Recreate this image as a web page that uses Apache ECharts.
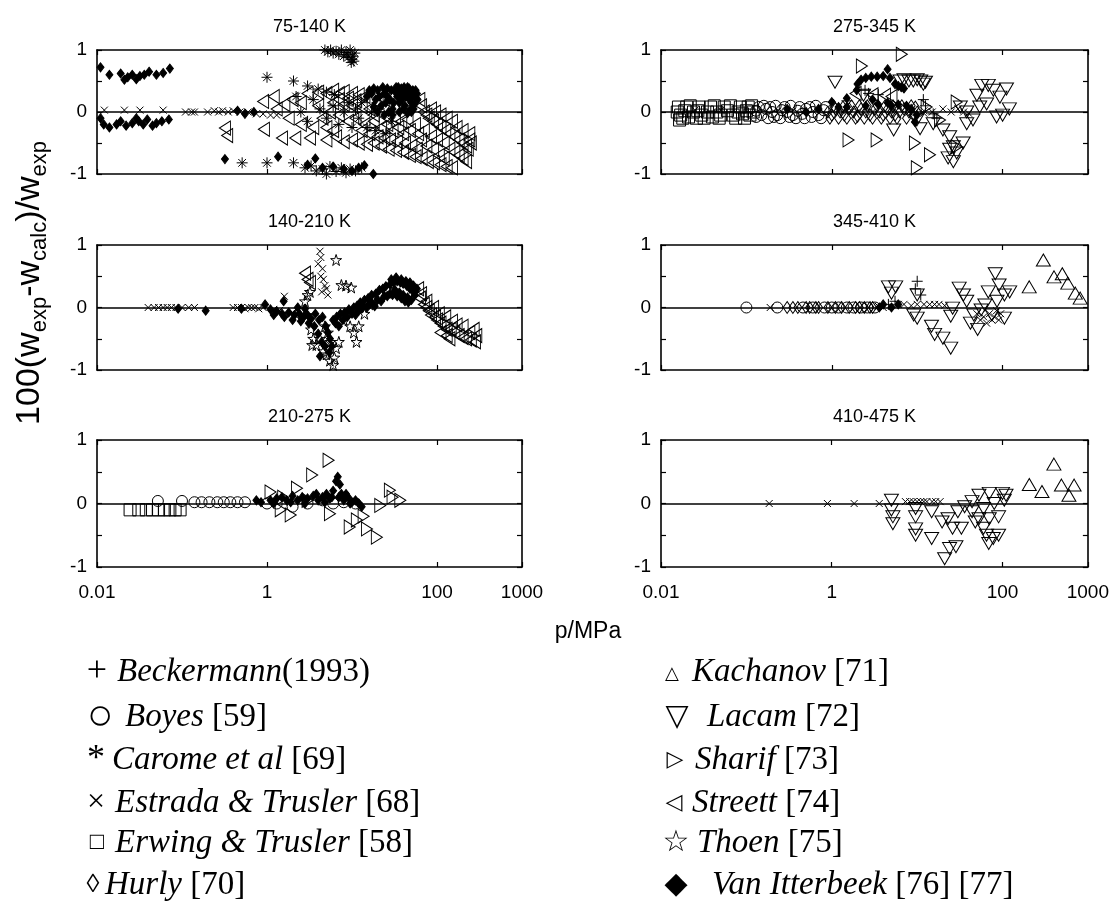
<!DOCTYPE html>
<html><head><meta charset="utf-8">
<script src="https://cdn.jsdelivr.net/npm/echarts@6.0.0/dist/echarts.min.js"></script>
<style>html,body{margin:0;padding:0;background:#fff}#c{width:1112px;height:909px}</style>
</head><body><div id="c"></div>
<script>
// ---------- tick labels ----------
const xTicks = [0.01, 1, 100, 1000];
const xTickLabels = ['0.01', '1', '100', '1000'];
const yTicks = [-1, -0.5, 0, 0.5, 1];
const yTickLabels = ['-1', '', '0', '', '1'];
const panelTitles = ['75-140 K', '140-210 K', '210-275 K', '275-345 K', '345-410 K', '410-475 K'];

// ---------- 75-140 K ----------
const carome_75 = [[4.8,1.0],[5.2,0.97],[5.6,1.0],[6.0,0.95],[6.5,0.98],[7.0,0.93],[7.5,1.0],[8.0,0.9],[8.5,0.96],[9.0,0.88],[9.5,1.0],[10.0,0.85],[10.5,0.82],[9.8,0.8],[8.8,0.93],[10.8,0.95],[10.2,0.9],
 [1.0,0.56],[2.05,0.5],[3.0,0.42],[4.0,0.37],[5.0,0.32],[6.2,0.28],
 [0.51,-0.82],[1.0,-0.82],[2.05,-0.82],[2.8,-0.9],[3.3,-0.87],[3.8,-0.95],[4.5,-0.92],[5.0,-1.0],[5.5,-0.88],[6.5,-0.96],[7.5,-0.9],[8.5,-0.98],[9.5,-0.92],[11,-0.95],[13,-0.9],
 [3.5,0.2],[4.2,0.05],[5,-0.1],[6,0.1],[7,-0.2],[8,0.0],[9,0.15],[10,-0.25],[11,0.05],[12,-0.1],[13,0.15],[15,-0.25],[17,0.0],[19,-0.3],[21,0.05],[25,-0.35],[29,-0.15],[2.5,0.0],[3,-0.15],[2.2,0.25]];
const vanItterbeek_75 = [[0.011,0.72],[0.014,0.6],[0.019,0.62],[0.021,0.52],[0.023,0.56],[0.026,0.6],[0.029,0.53],[0.032,0.58],[0.036,0.6],[0.041,0.65],[0.05,0.6],[0.06,0.63],[0.072,0.7],
 [0.011,-0.1],[0.012,-0.2],[0.014,-0.25],[0.017,-0.2],[0.019,-0.15],[0.022,-0.22],[0.026,-0.18],[0.029,-0.1],[0.031,-0.15],[0.035,-0.2],[0.039,-0.12],[0.045,-0.22],[0.05,-0.18],[0.058,-0.15],[0.07,-0.12],
 [0.32,-0.76],[1.35,-0.72],[3.7,-0.75],[14,-0.86],[17.8,-1.0],[3.0,-0.85],[4.5,-0.9],[6,-0.88],[8,-0.92],[10,-0.95],[12,-0.9],
 [0.45,0.02],[0.55,-0.03],[0.7,0.0],
 [15,0.25],[17,0.3],[19,0.2],[20,0.35],[22,0.1],[24,0.3],[26,0.38],[28,0.2],[30,0.05],[32,0.33],[34,0.25],[36,0.15],[38,0.38],[40,0.3],[42,0.1],[44,0.35],[46,0.22],[48,0.3],[50,0.15],[52,0.35],[55,0.25],[58,0.3],[18,0.08],[25,0.15],[35,0.4],[45,0.4],[27,0.0],[40,0.05],[53,0.05],
 [16,0.35],[18,0.38],[21,0.25],[23,0.4],[26,0.25],[29,0.35],[31,0.15],[33,0.4],[37,0.3],[39,0.2],[41,0.4],[43,0.25],[47,0.38],[49,0.05],[51,0.25],[54,0.12],[56,0.35],[59,0.2],[20,0.0],[24,-0.05],[30,-0.05],[36,0.0],[45,-0.02],[50,0.0]];
const estrada_75 = [[0.0122,0.03],[0.021,0.03],[0.032,0.03],[0.06,0.03],[0.11,0.0],[0.13,0.0],[0.14,0.0],[0.2,0.0],[0.24,0.02],[0.27,0.0],[0.3,0.02],[0.35,0.0],[0.4,0.02],[0.48,0.0],[0.6,0.0],[0.75,-0.03],[0.9,-0.03],[1.1,-0.05],[1.3,-0.05]];
const streett_75 = [[0.32,-0.26],[0.34,-0.38],[0.9,0.17],[1.2,0.25],[1.3,0.05],[0.92,-0.28],[1.5,-0.42],[2.15,-0.42],[3.2,-0.42],[1.6,0.12],[2.0,0.2],[2.5,0.15],[3.0,0.3],[1.8,-0.1],[2.5,-0.2],[3.5,-0.25],
 [4,0.32],[5,0.3],[6,0.35],[7,0.3],[8,0.33],[10,0.3],[12,0.28],[14,0.25],[6,0.15],[8,0.12],[10,0.1],[13,0.08],[16,0.05],
 [4.5,-0.1],[5.5,0.0],[7,-0.05],[9,-0.15],[11,-0.1],[14,-0.2],[18,-0.15],[22,-0.25],[26,-0.2],[30,-0.3],[35,-0.25],[40,-0.35],[48,-0.3],
 [5,-0.45],[6.5,-0.4],[8,-0.48],[10,-0.45],[12,-0.5],[15,-0.52],[18,-0.5],[22,-0.55],[27,-0.6],[33,-0.62],[40,-0.65],[48,-0.7],[56,-0.72],[66,-0.75],[78,-0.8],[92,-0.82],[110,-0.85],[130,-0.88],[150,-0.9],
 [62,0.2],[65,0.1],[70,0.0],[75,-0.05],[80,-0.1],[90,-0.15],[100,-0.2],[110,-0.25],[125,-0.3],[140,-0.35],[160,-0.4],[180,-0.45],[200,-0.5],[220,-0.55],[240,-0.45],[230,-0.6],[200,-0.3],[170,-0.25],[150,-0.15],[130,-0.1],[110,-0.05],[95,0.0],[85,0.05],[70,-0.3],[85,-0.4],[100,-0.45],[120,-0.5],[140,-0.6],[160,-0.65],[180,-0.7],[200,-0.75],[220,-0.8],[250,-0.5],[240,-0.35],
 [4,0.1],[5,-0.25],[6,-0.3],[7,0.2],[9,0.22],[11,0.18],[13,-0.3],[16,-0.35],[20,-0.4],[24,-0.42],[28,-0.45],[34,-0.48],[42,-0.5],[50,-0.55],[58,-0.6],[20,0.15],[24,0.2],[18,-0.05],[25,-0.08],[32,-0.1],[38,-0.15],[45,-0.12],[55,-0.2],[60,-0.35],[65,-0.45],[75,-0.55],[90,-0.6],[105,-0.7],[120,-0.75]];

// ---------- 140-210 K ----------
const estrada_140 = [[0.04,0],[0.047,0],[0.053,0],[0.06,0],[0.067,0],[0.075,0],[0.085,0],[0.1,0],[0.12,0],[0.14,0],[0.4,0],[0.45,0],[0.5,0],[0.55,-0.02],[0.6,0],[0.66,0],[0.72,0],[0.8,-0.02],[0.9,0.0],[1.6,0.18],
 [4.2,0.9],[4.3,0.8],[4.0,0.7],[4.5,0.62],[4.3,0.5],[4.6,0.45],[4.8,0.35],[5.0,0.3],[4.4,0.25],[5.2,0.2],[1.2,-0.03],[1.4,-0.05],[2.0,-0.08]];
const vanItterbeek_140 = [[0.09,-0.02],[0.19,-0.05],[0.5,-0.02],[0.95,0.05],[1.57,0.1],[1.1,-0.03],[1.3,-0.06],[1.5,-0.1],[1.8,-0.08],[2.1,-0.12],[2.4,-0.1],[2.7,-0.15],[3.0,-0.12],[3.3,-0.18],[3.7,-0.1],[4.1,-0.2],[4.5,-0.15],[4.9,-0.3],[5.2,-0.4],[5.5,-0.5],[5.8,-0.62],[5.4,-0.72],[6.0,-0.2],[6.6,-0.15],[7.3,-0.1],[8.2,-0.08],[9.2,-0.03],[10.5,0.0],[11.5,0.03],[12.5,0.08],[14,0.12],[15.5,0.15],[17,0.2],[19,0.22],[21,0.28],[23,0.3],[25,0.34],[28,0.37],[31,0.4],[34,0.42],[37,0.4],[40,0.38],[44,0.35],[48,0.3],[52,0.26],[55,0.2],[20,0.12],[24,0.18],[28,0.22],[32,0.28],[36,0.24],[40,0.2],[45,0.16],[50,0.12],[16,0.05],[13,-0.02],[3.6,-0.3],[4.0,-0.42],[4.4,-0.55],[4.8,-0.62],[4.2,-0.78],
 [1.2,-0.12],[1.6,-0.15],[2.0,-0.2],[2.5,-0.22],[3.1,-0.25],[2.3,0.0],[2.8,-0.02],[6.4,-0.25],[7,-0.3],[7.8,-0.2],[8.8,-0.15],[10,-0.1],[11,-0.12],[12,-0.05],[13.5,0.02],[15,0.0],[17,0.08],[18.5,0.02],[22,0.1],[26,0.18],[30,0.2],[34,0.18],[38,0.15],[42,0.1],[46,0.08],[29,0.45],[33,0.48],[38,0.45],[43,0.42],[48,0.4],[53,0.35],[58,0.3]];
const thoen_140 = [[6.5,0.76],[7.5,0.36],[8.5,0.35],[9.8,0.32],[3.3,-0.35],[3.5,-0.5],[3.8,-0.6],[4.2,-0.5],[4.6,-0.7],[5.0,-0.75],[5.5,-0.85],[6.0,-0.92],[6.5,-0.65],[7.0,-0.55],[5.2,-0.4],[4.8,-0.3],[9.5,-0.3],[10.5,-0.4],[11.3,-0.55],[12,-0.3],[3.0,0.2],[2.8,0.1],[3.2,0.25],[8,-0.2],[14,-0.1],[16,0.05],[6.2,-0.8],[5.6,-0.55],[3.4,-0.6],[2.9,-0.12],[2.2,-0.1],[18,0.1],[22,0.2],[26,0.3]];
const streett_140 = [[2.8,0.55],[3.0,0.45],[3.2,0.4],[60,0.3],[63,0.15],[65,0.22],[70,0.05],[75,0.0],[75,0.1],[80,-0.05],[85,-0.12],[90,0.0],[95,-0.15],[100,-0.2],[105,-0.1],[110,-0.25],[110,-0.4],[120,-0.3],[125,-0.15],[130,-0.35],[130,-0.45],[140,-0.5],[145,-0.35],[150,-0.22],[160,-0.4],[170,-0.28],[180,-0.45],[200,-0.48],[200,-0.3],[220,-0.5],[240,-0.4],[250,-0.52],[270,-0.35],[280,-0.55],[290,-0.45]];

// ---------- 210-275 K ----------
const erwing_210 = [[0.0245,-0.1],[0.031,-0.1],[0.038,-0.1],[0.045,-0.1],[0.053,-0.1],[0.062,-0.1],[0.072,-0.1],[0.083,-0.1],[0.095,-0.1]];
const boyes_210 = [[0.052,0.04],[0.1,0.04],[0.14,0.02],[0.17,0.02],[0.21,0.02],[0.26,0.02],[0.31,0.02],[0.37,0.02],[0.45,0.02],[0.55,0.02],[1.0,0.0],[1.3,0.0],[2.0,-0.05],[3.0,0.0],[4.5,0.05],[6.0,0.0],[8,0.02],[11,0.0]];
const vanItterbeek_210 = [[0.75,0.05],[0.85,0.02],[1.1,0.05],[1.3,0.08],[1.5,0.1],[1.7,0.05],[2.0,0.12],[2.3,0.05],[2.6,0.1],[3.0,0.08],[3.5,0.12],[4.0,0.05],[4.5,0.1],[5.0,0.15],[5.5,0.08],[6.0,0.2],[6.5,0.35],[6.8,0.42],[7.2,0.3],[7.5,0.15],[8,0.05],[9,0.1],[10,0.02],[11,0.05],[12,0.0],[13,-0.05],
 [1.2,0.0],[1.9,0.02],[2.8,0.0],[3.8,0.15],[4.8,0.02],[5.8,0.1],[7,0.1],[8.5,0.15],[9.5,0.0]];
const sharif_210 = [[5.3,0.68],[3.4,0.45],[1.1,0.18],[2.25,0.24],[1.45,-0.1],[1.9,-0.18],[5.5,-0.16],[9.4,-0.37],[11.4,-0.26],[15,-0.4],[19.6,-0.53],[27.9,0.21],[30,0.1],[21.5,-0.03],[1.55,0.1],[3.0,0.05],[13.7,-0.2],[37,0.05]];

// ---------- 275-345 K ----------
const erwing_275 = [[0.0155,0.0],[0.0165,-0.13],[0.017,-0.05],[0.019,0.02],[0.021,-0.08],[0.024,0.0],[0.027,0.02],[0.03,-0.05],[0.035,0.0],[0.04,-0.08],[0.045,0.0],[0.05,-0.05],[0.06,0.02],[0.07,-0.05],[0.08,0.0],[0.09,-0.03],[0.1,0.02],[0.11,-0.05],[0.12,0.0],
 [0.016,0.08],[0.018,-0.1],[0.02,0.08],[0.022,0.1],[0.026,-0.1],[0.028,0.08],[0.032,-0.1],[0.038,0.08],[0.042,0.1],[0.048,-0.1],[0.055,0.08],[0.065,0.1],[0.075,-0.1],[0.085,0.08],[0.095,-0.1],[0.105,0.08],[0.115,0.1]];
const boyes_275 = [[0.13,0.02],[0.15,-0.05],[0.17,0.05],[0.2,0.0],[0.23,-0.05],[0.26,0.03],[0.3,0.0],[0.35,-0.05],[0.4,0.02],[0.45,-0.03],[0.5,0.05],[0.6,0.0],[0.7,-0.05],[0.8,0.03],
 [0.13,-0.08],[0.14,0.08],[0.16,0.1],[0.18,-0.1],[0.19,0.08],[0.21,-0.08],[0.22,0.1],[0.25,-0.1],[0.28,0.08],[0.32,-0.08],[0.33,0.1],[0.38,-0.1],[0.42,0.08],[0.48,-0.1],[0.55,0.08],[0.58,-0.08],[0.65,0.1],[0.75,-0.1],[0.85,0.08]];
const hurly_275 = [[0.9,0.0],[1.0,-0.05],[1.1,0.05],[1.25,0.0],[1.4,-0.05],[1.6,0.05],[1.8,0.0],[2.0,-0.07],[2.2,0.05],[2.5,0.0],[2.8,-0.05],[3.2,0.05],[3.6,0.0],[4.0,-0.05],[4.5,0.05],[5.0,0.0],[5.5,-0.05],[6.2,0.0],[7.0,0.05],[8.0,0.0],[9.0,-0.05],[10,0.0],
 [0.95,-0.1],[1.05,0.1],[1.2,-0.1],[1.35,0.08],[1.5,-0.1],[1.7,0.1],[1.9,-0.1],[2.1,0.1],[2.4,-0.1],[2.6,0.1],[3.0,-0.1],[3.4,0.1],[3.8,-0.1],[4.2,0.1],[4.8,-0.1],[5.2,0.1],[5.8,-0.1],[6.6,0.1],[7.5,-0.1],[8.5,0.1],[9.5,0.08]];
const estrada_275 = [[0.025,0.03],[0.05,0.03],[1.2,0.0],[1.5,0.02],[2.0,0.0],[3.0,0.0],[5.0,0.02],[8.0,0.0],[12,0.02],[15,0.0],[20,0.05],[25,0.0],[30,0.05],[35,0.0],[40,-0.02],[12,-0.02]];
const vanItterbeek_275 = [[1.0,0.16],[1.5,0.22],[1.96,0.35],[2.2,0.52],[2.5,0.55],[2.9,0.57],[3.4,0.57],[4.0,0.58],[4.5,0.69],[4.8,0.55],[5.5,0.45],[6.0,0.42],[6.5,0.4],[7.0,0.38],[2.0,0.45],[9.9,-0.05],[9.4,-0.16],[1.2,0.08],[3.0,0.2],[5.0,0.1],
 [0.3,0.05],[0.5,0.0],[0.7,0.05],[1.5,0.08],[2.5,0.1],[3.5,0.12],[4.5,0.15],[6,0.12],[7.5,0.1],[8.5,0.05]];
const lacam_275 = [[1.09,0.48],[2.35,0.27],[5.3,-0.29],[6.3,0.5],[7,0.52],[8,0.5],[9,0.5],[10,0.52],[11,0.5],[11.8,0.45],[12.5,0.48],[9.9,-0.13],[10.8,-0.27],[15.4,-0.19],[20,-0.29],[24,-0.4],[26.5,-0.56],[29,-0.66],[26.5,-0.8],[34.5,-0.5],[38,-0.19],[45,-0.13],[54,0.08],[57,0.43],[68,0.43],[78,0.35],[93,0.24],[111,0.37],[85,-0.08],[100,-0.05],[120,0.05],[65,0.13],[38,0.0],[32,0.08],[24,-0.6],[23,-0.74],[50,0.27]];
const sharif_275 = [[6.6,0.93],[2.25,0.74],[1.57,-0.45],[3.35,-0.45],[9.4,-0.5],[14.1,-0.69],[9.9,-0.9],[18.5,-0.13],[29,0.16],[12.9,0.08],[29,-0.56]];
const beckermann_275 = [[1.5,0.18],[2.45,0.35],[2.7,0.3],[3.5,0.28],[11.8,0.2],[12.5,0.1],[15.4,-0.03],[17,-0.1]];
const streett_275 = [[1.9,0.3],[3.0,0.28],[4.2,0.27],[5.0,0.25]];

// ---------- 345-410 K ----------
const boyes_345 = [[0.1,0],[0.23,0],[0.46,0],[0.6,0],[0.82,0],[1.0,0],[1.2,0],[1.5,0],[1.8,0],[2.2,0],[2.6,0],[3.2,0]];
const hurly_345 = [[0.3,0],[0.35,0],[0.4,0],[0.5,0],[0.55,0],[0.65,0],[0.7,0],[0.9,0],[1.1,0],[1.3,0],[1.6,0],[1.9,0],[2.1,0],[2.4,0],[2.8,0],[3.0,0]];
const estrada_345 = [[0.19,0],[3.5,0.02],[4,0.0],[6,0.05],[7,0.05],[8.5,0.03],[10,0.05],[12,0.05],[14,0.05],[16,0.05],[18,0.05],[21,0.03],[50,-0.1],[55,-0.2],[60,-0.15],[65,-0.25],[70,-0.1],[75,-0.2],[80,-0.15],[85,-0.05],[90,-0.2],[95,-0.1]];
const lacam_345 = [[4.6,0.33],[5.6,0.33],[5.0,0.23],[10,-0.17],[14.7,-0.3],[16,-0.43],[20,-0.49],[24.7,-0.65],[24.7,-0.14],[31,0.31],[34.8,0.2],[38,0.1],[42,-0.25],[51,-0.35],[68,0.25],[82,0.54],[91,0.36],[105,0.2],[121,0.25],[105,-0.17],[75,-0.12],[62,0.04],[56,-0.04],[9.1,-0.12],[10,0.2],[26,-0.01],[46,-0.12],[86,0.1]];
const beckermann_345 = [[10,0.42],[9.5,0.3],[4.6,0.05],[5.5,0.1],[11,0.2]];
const kachanov_345 = [[205,0.33],[300,0.76],[400,0.49],[500,0.54],[580,0.39],[710,0.23],[810,0.15]];
const vanItterbeek_345 = [[3.6,0.0],[4,0.05],[5,0.0],[6,0.05]];

// ---------- 410-475 K ----------
const estrada_410 = [[0.185,0],[0.89,0],[1.83,0],[3.6,0.0],[7.3,0.03],[8.2,0.03],[9,0.03],[10,0.03],[11,0.03],[12,0.03],[13,0.03],[15,0.03],[16.5,0.03],[18.6,0.03]];
const lacam_410 = [[5.0,0.05],[5.0,-0.1],[5.2,-0.21],[5.2,-0.32],[9.6,-0.08],[9.6,-0.21],[9.6,-0.4],[9.6,-0.5],[14.8,-0.13],[14.8,-0.55],[19.6,-0.29],[21,-0.87],[24,-0.71],[28.5,-0.68],[26,-0.39],[33,-0.39],[23,-0.24],[30,-0.13],[36,-0.05],[44,-0.13],[53,-0.24],[60,-0.39],[65,-0.5],[69,-0.63],[78,-0.55],[90,-0.5],[53,0.13],[70,0.16],[100,0.16],[110,0.13],[90,-0.21],[48,-0.29],[60,-0.08],[80,0.0],[105,0.05],[44,0.03],[70,-0.24]];
const kachanov_410 = [[206,0.3],[290,0.19],[400,0.62],[490,0.29],[600,0.13],[690,0.29]];

// ---------- legend ----------
const legendSymbols = ['+', '○', '*', '×', '□', '◊', '△', '▽', '▷', '◁', '☆', '◆'];
const legendNames = ['Beckermann', 'Boyes', 'Carome et al', 'Estrada & Trusler', 'Erwing & Trusler', 'Hurly', 'Kachanov', 'Lacam', 'Sharif', 'Streett', 'Thoen', 'Van Itterbeek'];
const legendRefs = ['(1993)', ' [59]', ' [69]', ' [68]', ' [58]', ' [70]', ' [71]', ' [72]', ' [73]', ' [74]', ' [75]', ' [76] [77]'];

// ---------- styles / layout ----------
const STY = {
  beckermann: { symbol: 'path://M5,0L5,10M0,5L10,5', size: 11 },
  boyes: { symbol: 'circle', size: 11 },
  carome: { symbol: 'path://M5,0L5,10M0,5L10,5M1.5,1.5L8.5,8.5M8.5,1.5L1.5,8.5', size: 11 },
  estrada: { symbol: 'path://M0,0L10,10M10,0L0,10', size: 7 },
  erwing: { symbol: 'rect', size: 12 },
  hurly: { symbol: 'diamond', size: [8, 12] },
  kachanov: { symbol: 'triangle', size: [14, 12] },
  lacam: { symbol: 'path://M0,0L10,0L5,9Z', size: [14, 12] },
  sharif: { symbol: 'path://M0,0L9,5L0,10Z', size: [11, 14] },
  streett: { symbol: 'path://M9,0L0,5L9,10Z', size: [11, 14] },
  thoen: { symbol: 'path://M5,0L6.2,3.6L10,3.6L6.9,5.8L8.1,9.5L5,7.2L1.9,9.5L3.1,5.8L0,3.6L3.8,3.6Z', size: 11 },
  vanItterbeek: { symbol: 'diamond', size: [7, 9], filled: true }
};

const GRIDS = [
  { left: 97, top: 50, width: 425, height: 124 },
  { left: 97, top: 245, width: 425, height: 125 },
  { left: 97, top: 440, width: 425, height: 127 },
  { left: 661, top: 50, width: 427, height: 124 },
  { left: 661, top: 245, width: 427, height: 125 },
  { left: 661, top: 440, width: 427, height: 127 }
];
const panelSeries = [
  [['streett', streett_75], ['vanItterbeek', vanItterbeek_75], ['carome', carome_75], ['estrada', estrada_75]],
  [['streett', streett_140], ['vanItterbeek', vanItterbeek_140], ['thoen', thoen_140], ['estrada', estrada_140]],
  [['erwing', erwing_210], ['boyes', boyes_210], ['vanItterbeek', vanItterbeek_210], ['sharif', sharif_210]],
  [['erwing', erwing_275], ['boyes', boyes_275], ['hurly', hurly_275], ['estrada', estrada_275], ['vanItterbeek', vanItterbeek_275], ['lacam', lacam_275], ['sharif', sharif_275], ['beckermann', beckermann_275], ['streett', streett_275]],
  [['boyes', boyes_345], ['hurly', hurly_345], ['estrada', estrada_345], ['lacam', lacam_345], ['beckermann', beckermann_345], ['kachanov', kachanov_345], ['vanItterbeek', vanItterbeek_345]],
  [['estrada', estrada_410], ['lacam', lacam_410], ['kachanov', kachanov_410]]
];
const bottomRow = [false, false, true, false, false, true];

const AX_FONT = 'Liberation Sans, Arial, sans-serif';
function xFmt(v) {
  for (let k = 0; k < xTicks.length; k++) if (Math.abs(Math.log10(v) - Math.log10(xTicks[k])) < 1e-6) return xTickLabels[k];
  return '';
}
function yFmt(v) {
  for (let k = 0; k < yTicks.length; k++) if (Math.abs(v - yTicks[k]) < 1e-9) return yTickLabels[k];
  return '';
}

const grid = [], xAxis = [], yAxis = [], series = [], graphic = [];
GRIDS.forEach((g, i) => {
  grid.push(Object.assign({ show: false }, g));
  const line = { show: true, onZero: false, lineStyle: { color: '#000', width: 1.6 } };
  const tick = { show: true, inside: true, length: 5, lineStyle: { color: '#000', width: 1.2 } };
  xAxis.push({ type: 'log', logBase: 10, gridIndex: i, position: 'bottom', min: 0.01, max: 1000,
    axisLine: line, axisTick: Object.assign({ customValues: xTicks }, tick), minorTick: { show: false },
    splitLine: { show: false },
    axisLabel: { show: bottomRow[i], customValues: xTicks, formatter: xFmt, color: '#000', fontSize: 19, fontFamily: AX_FONT, margin: 16 } });
  xAxis.push({ type: 'log', logBase: 10, gridIndex: i, position: 'top', min: 0.01, max: 1000,
    axisLine: line, axisTick: Object.assign({ customValues: xTicks }, tick), minorTick: { show: false },
    splitLine: { show: false }, axisLabel: { show: false } });
  yAxis.push({ type: 'value', gridIndex: i, position: 'left', min: -1, max: 1, interval: 0.5,
    axisLine: line, axisTick: tick, splitLine: { show: false },
    axisLabel: { formatter: yFmt, color: '#000', fontSize: 19, fontFamily: AX_FONT, margin: 10 } });
  yAxis.push({ type: 'value', gridIndex: i, position: 'right', min: -1, max: 1, interval: 0.5,
    axisLine: line, axisTick: tick, splitLine: { show: false }, axisLabel: { show: false } });

  panelSeries[i].forEach((entry, j) => {
    const st = STY[entry[0]];
    const s = {
      type: 'scatter', name: entry[0], xAxisIndex: 2 * i, yAxisIndex: 2 * i, data: entry[1],
      symbol: st.symbol, symbolSize: st.size, silent: true, animation: false,
      itemStyle: { color: st.filled ? '#000' : 'rgba(0,0,0,0)', borderColor: '#000', borderWidth: 1, opacity: 1 }
    };
    if (j === 0) {
      s.markLine = { silent: true, symbol: 'none', animation: false, label: { show: false },
        lineStyle: { color: '#000', width: 1.5, type: 'solid' }, data: [{ yAxis: 0 }] };
    }
    series.push(s);
  });

  graphic.push({ type: 'text', x: g.left + g.width / 2, y: g.top - 23, silent: true,
    style: { text: panelTitles[i], fill: '#000', font: '18px ' + AX_FONT, align: 'center', verticalAlign: 'middle' } });
});

// axis titles
graphic.push({ type: 'text', x: 30, y: 283, rotation: Math.PI / 2, silent: true,
  style: { text: '{m|100(w}{s|exp}{m|-w}{s|calc}{m|)/w}{s|exp}', align: 'center', verticalAlign: 'middle', fill: '#000',
    rich: { m: { fontSize: 34, fontFamily: AX_FONT, lineHeight: 42, verticalAlign: 'middle' },
            s: { fontSize: 22, fontFamily: AX_FONT, lineHeight: 16, verticalAlign: 'bottom' } } } });
graphic.push({ type: 'text', x: 588, y: 632, silent: true,
  style: { text: 'p/MPa', fill: '#000', font: '23px Liberation Sans, Arial, sans-serif', align: 'center', verticalAlign: 'middle' } });

// legend
const LROWS = [672, 717, 760, 803, 843, 885];
const LSYM = [[97, 36], [100, 44], [96, 36], [96, 32], [97, 24], [93, 26], [672, 18], [677, 30], [675, 22], [674, 22], [676, 30], [676, 30]];
const LNAMEX = [117, 125, 112, 115, 115, 105, 692, 707, 695, 692, 697, 712];
legendNames.forEach((nm, k) => {
  const y = LROWS[k % 6] + (k === 6 ? 2 : 0);
  graphic.push({ type: 'text', x: LSYM[k][0], y: y, silent: true,
    style: { text: legendSymbols[k], fill: '#000', font: LSYM[k][1] + 'px Liberation Serif, DejaVu Sans, serif', align: 'center', verticalAlign: 'middle' } });
  graphic.push({ type: 'text', x: LNAMEX[k], y: LROWS[k % 6], silent: true,
    style: { text: '{i|' + nm + '}{n|' + legendRefs[k] + '}', align: 'left', verticalAlign: 'middle', fill: '#000',
      rich: { i: { fontSize: 33, fontStyle: 'italic', fontFamily: 'Liberation Serif, Times New Roman, serif' },
              n: { fontSize: 33, fontFamily: 'Liberation Serif, Times New Roman, serif' } } } });
});

const chart = echarts.init(document.getElementById('c'), null, { renderer: 'canvas' });
chart.setOption({ backgroundColor: '#fff', animation: false, grid, xAxis, yAxis, series, graphic });
</script></body></html>
